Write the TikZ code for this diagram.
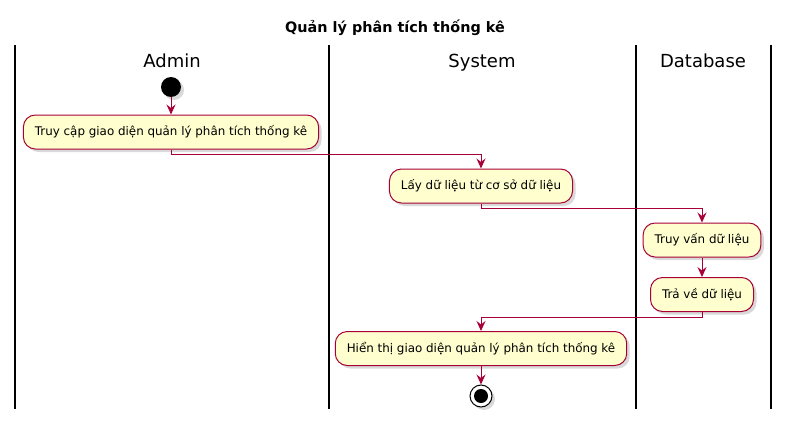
\documentclass[tikz,border=0pt]{standalone}
\usepackage{fontspec}
\setmainfont{DejaVu Sans}
\usetikzlibrary{arrows.meta,shadows}
\definecolor{actfill}{HTML}{FEFECE}
\definecolor{actline}{HTML}{A80036}

\begin{document}
\begin{tikzpicture}[
    x=1pt, y=-1pt,
    >={Stealth[length=10pt,width=9pt,inset=3.5pt]},
    every node/.style={font=\fontsize{11.9}{14}\selectfont},
    act/.style={
        draw=actline,
        fill=actfill,
        line width=1pt,
        rounded corners=12pt,
        inner xsep=11.5pt,
        minimum height=34pt,
        drop shadow={shadow xshift=3pt, shadow yshift=-3pt, opacity=0.3}
    },
    flow/.style={->, draw=actline, line width=1pt},
    lane/.style={line width=1.5pt},
    head/.style={font=\fontsize{18}{20}\selectfont, text height=13pt, text depth=4pt}
]
\useasboundingbox (0,0) rectangle (790,423);

\node[font=\fontsize{14.4}{16}\selectfont\bfseries] (title) at (395,28) {Quản lý phân tích thống kê};

% swimlanes
\foreach \x in {15,329,636,771}
    \draw[lane] (\x,45) -- (\x,409);
\node[head] (hAdmin) at (172,63) {Admin};
\node[head] (hSystem) at (482,63) {System};
\node[head] (hDb) at (703,63) {Database};

\node[circle, fill=black, minimum size=20pt, inner sep=0pt,
      drop shadow={shadow xshift=3pt, shadow yshift=-3pt, opacity=0.3}] (start) at (171,87) {};

\node[act] (A1) at (171,132) {Truy cập giao diện quản lý phân tích thống kê};
\node[act] (A2) at (481,186) {Lấy dữ liệu từ cơ sở dữ liệu};
\node[act] (A3) at (702,240) {Truy vấn dữ liệu};
\node[act] (A4) at (702,294.5) {Trả về dữ liệu};
\node[act] (A5) at (481,348.5) {Hiển thị giao diện quản lý phân tích thống kê};

\node[circle, draw=black, fill=white, line width=1pt, minimum size=22pt, inner sep=0pt,
      drop shadow={shadow xshift=3pt, shadow yshift=-3pt, opacity=0.3}] (stop) at (481,396) {};
\node[circle, fill=black, minimum size=14pt, inner sep=0pt] (stopdot) at (stop.center) {};

\draw[flow] (start) -- (A1);
\draw[flow] (A1.south) -- ++(0,5) -| (A2.north);
\draw[flow] (A2.south) -- ++(0,5) -| (A3.north);
\draw[flow] (A3) -- (A4);
\draw[flow] (A4.south) -- ++(0,5) -| (A5.north);
\draw[flow] (A5) -- (stop);

\end{tikzpicture}
\end{document}
